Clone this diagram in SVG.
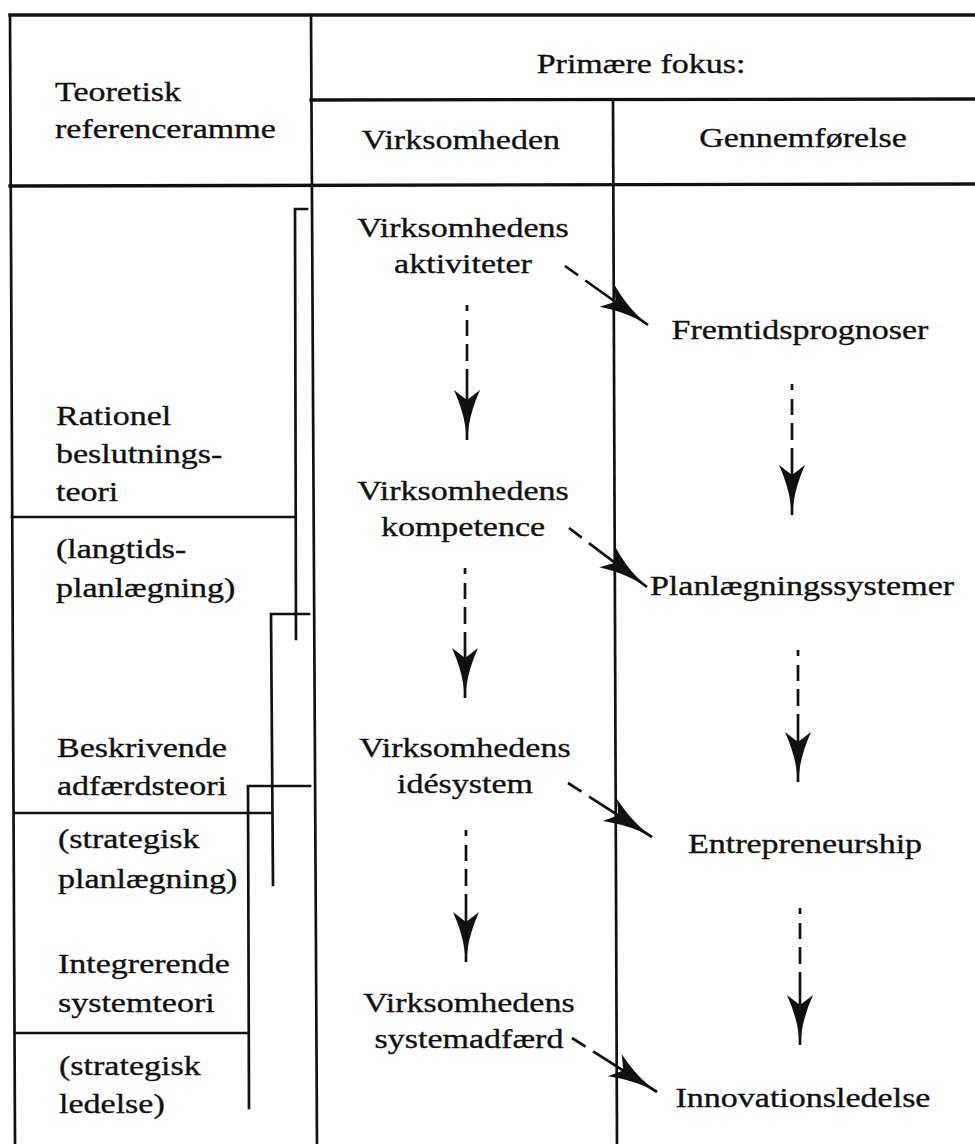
<svg xmlns="http://www.w3.org/2000/svg" width="975" height="1144" viewBox="0 0 975 1144">
<style>
  .t { font-family: "Liberation Serif", "Times New Roman", serif; font-size: 28px; fill: #111; stroke: #111; stroke-width: 0.35; }
  .m { text-anchor: middle; }
  .ln { stroke: #111; stroke-width: 2.7; fill: none; stroke-linecap: square; }
  .thick { stroke-width: 3.3; }
  .vd { stroke: #111; stroke-width: 2.7; fill: none; stroke-dasharray: 6 9 16 8 17 8 300; marker-end: url(#ah); }
  .dd { stroke: #111; stroke-width: 2.7; fill: none; stroke-dasharray: 16 9 300; marker-end: url(#ah); }
</style>
<defs>
  <marker id="ah" markerUnits="userSpaceOnUse" viewBox="-52 -15 54 30" markerWidth="54" markerHeight="30" refX="0" refY="0" orient="auto" overflow="visible">
    <path d="M0,0 L-14,-1.8 Q-30,-4.2 -50,-13 L-40,0 L-50,13 Q-30,4.2 -14,1.8 Z" fill="#111"/>
  </marker>
</defs>
<rect width="975" height="1144" fill="#fff"/>

<g id="table">
  <line class="ln thick" x1="10" y1="15" x2="975" y2="15"/>
  <line class="ln" x1="10" y1="15" x2="15" y2="1144"/>
  <line class="ln" x1="311" y1="15" x2="317" y2="1144"/>
  <line class="ln thick" x1="311" y1="100" x2="975" y2="99"/>
  <line class="ln" x1="613" y1="100" x2="617" y2="1144"/>
  <line class="ln thick" x1="10" y1="186" x2="975" y2="184"/>
  <line class="ln" x1="12" y1="517" x2="295" y2="517"/>
  <line class="ln" x1="14" y1="813" x2="272" y2="813"/>
  <line class="ln" x1="15" y1="1033" x2="248" y2="1033"/>
</g>

<g id="brackets">
  <polyline class="ln" points="307,209 295,209 296,639"/>
  <polyline class="ln" points="309,614 271,614 273,885"/>
  <polyline class="ln" points="310,786 248,786 249,1108"/>
</g>

<g id="header-left" transform="scale(1.215 1)">
  <text class="t" x="45.3" y="101">Teoretisk</text>
  <text class="t" x="45.3" y="138">referenceramme</text>
</g>
<g id="header-fokus" transform="scale(1.215 1)">
  <text class="t m" x="527.6" y="73">Primære fokus:</text>
</g>
<g id="header-virksomheden" transform="scale(1.215 1)">
  <text class="t m" x="379.4" y="149">Virksomheden</text>
</g>
<g id="header-gennemfoerelse" transform="scale(1.215 1)">
  <text class="t m" x="660.9" y="147">Gennemførelse</text>
</g>

<g id="rationel" transform="scale(1.215 1)">
  <text class="t" x="46.1" y="425">Rationel</text>
  <text class="t" x="46.1" y="463">beslutnings-</text>
  <text class="t" x="46.1" y="501">teori</text>
</g>
<g id="langtids" transform="scale(1.215 1)">
  <text class="t" x="46.1" y="558">(langtids-</text>
  <text class="t" x="46.1" y="597">planlægning)</text>
</g>
<g id="beskrivende" transform="scale(1.215 1)">
  <text class="t" x="46.9" y="757">Beskrivende</text>
  <text class="t" x="46.9" y="795">adfærdsteori</text>
</g>
<g id="strategisk-planlaegning" transform="scale(1.215 1)">
  <text class="t" x="47.7" y="848">(strategisk</text>
  <text class="t" x="47.7" y="888">planlægning)</text>
</g>
<g id="integrerende" transform="scale(1.215 1)">
  <text class="t" x="47.7" y="973">Integrerende</text>
  <text class="t" x="47.7" y="1012">systemteori</text>
</g>
<g id="strategisk-ledelse" transform="scale(1.215 1)">
  <text class="t" x="48.6" y="1075">(strategisk</text>
  <text class="t" x="48.6" y="1113">ledelse)</text>
</g>

<g id="aktiviteter" transform="scale(1.215 1)">
  <text class="t m" x="381.1" y="237">Virksomhedens</text>
  <text class="t m" x="381.1" y="273">aktiviteter</text>
</g>
<g id="kompetence" transform="scale(1.215 1)">
  <text class="t m" x="381.1" y="500">Virksomhedens</text>
  <text class="t m" x="381.1" y="536">kompetence</text>
</g>
<g id="idesystem" transform="scale(1.215 1)">
  <text class="t m" x="382.7" y="757">Virksomhedens</text>
  <text class="t m" x="382.7" y="793">idésystem</text>
</g>
<g id="systemadfaerd" transform="scale(1.215 1)">
  <text class="t m" x="386" y="1012">Virksomhedens</text>
  <text class="t m" x="386" y="1048">systemadfærd</text>
</g>

<g id="fremtidsprognoser" transform="scale(1.215 1)">
  <text class="t m" x="658.4" y="339">Fremtidsprognoser</text>
</g>
<g id="planlaegningssystemer" transform="scale(1.215 1)">
  <text class="t m" x="660.1" y="595">Planlægningssystemer</text>
</g>
<g id="entrepreneurship" transform="scale(1.215 1)">
  <text class="t m" x="662.6" y="853">Entrepreneurship</text>
</g>
<g id="innovationsledelse" transform="scale(1.215 1)">
  <text class="t m" x="660.9" y="1107">Innovationsledelse</text>
</g>

<g id="connectors">
  <path class="vd" d="M467,305 L467,440"/>
  <path class="vd" d="M465,568 L465,698"/>
  <path class="vd" d="M466,830 L466,962"/>
  <path class="vd" d="M792,384 L792,515"/>
  <path class="vd" d="M798,650 L798,782"/>
  <path class="vd" d="M800,908 L800,1045"/>
  <path class="dd" d="M565,266 L648,325"/>
  <path class="dd" d="M569,528 L647,587"/>
  <path class="dd" d="M568,783 L652,837"/>
  <path class="dd" d="M572,1038 L657,1092"/>
</g>
</svg>
